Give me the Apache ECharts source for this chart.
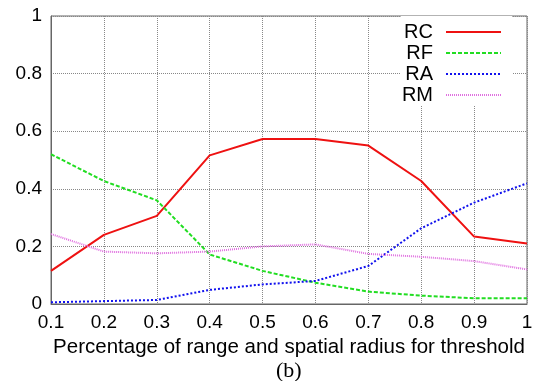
<!DOCTYPE html>
<html>
<head>
    <meta charset="UTF-8">
    <title>chart</title>
    <style>
        html, body {
            margin: 0;
            padding: 0;
            background-color: #FFF;
        }
    </style>
</head>
<body>
<div id="main" style="width:536px;height:381px"></div>

<script src="https://cdn.jsdelivr.net/npm/echarts@6/dist/echarts.min.js"></script>
<script type="text/javascript">
    var xLabels = ['0.1', '0.2', '0.3', '0.4', '0.5', '0.6', '0.7', '0.8', '0.9', '1'];
    var rc = [0.115, 0.240, 0.306, 0.516, 0.573, 0.573, 0.550, 0.427, 0.234, 0.210];
    var rf = [0.520, 0.427, 0.360, 0.172, 0.115, 0.074, 0.043, 0.029, 0.020, 0.020];
    var ra = [0.006, 0.010, 0.014, 0.049, 0.068, 0.080, 0.132, 0.263, 0.352, 0.419];
    var rm = [0.243, 0.182, 0.176, 0.182, 0.200, 0.207, 0.174, 0.164, 0.149, 0.120];
    var names = ['RC', 'RF', 'RA', 'RM'];

    var font = 'Liberation Sans';

    function makeSeries(name, data, color, type) {
        return {
            name: name,
            type: 'line',
            symbol: 'none',
            data: data,
            lineStyle: {color: color, width: 2, type: type},
            itemStyle: {color: color}
        };
    }

    var mCharts = echarts.init(document.getElementById('main'));
    mCharts.setOption({
        animation: false,
        title: {
            text: '(b)',
            left: 276,
            top: 360,
            padding: 0,
            textStyle: {fontFamily: 'Liberation Serif', fontWeight: 'normal', fontSize: 22, color: '#000'}
        },
        legend: {
            data: names,
            orient: 'vertical',
            align: 'right',
            right: 24,
            top: 16,
            padding: [6, 10, 1, 1],
            itemGap: 1,
            itemWidth: 55,
            itemHeight: 14,
            backgroundColor: '#fff',
            selectedMode: false,
            itemStyle: {opacity: 0},
            textStyle: {fontFamily: font, fontSize: 20, color: '#000', lineHeight: 20, padding: [0, 8, 0, 0]}
        },
        grid: {
            left: 51,
            right: 9,
            top: 16,
            bottom: 77,
            show: true,
            borderColor: '#666',
            borderWidth: 1
        },
        xAxis: {
            type: 'category',
            boundaryGap: false,
            data: xLabels,
            name: 'Percentage of range and spatial radius for threshold',
            nameLocation: 'middle',
            nameGap: 30,
            nameTextStyle: {fontFamily: font, fontSize: 20.5, color: '#000'},
            axisLine: {lineStyle: {color: '#666'}},
            axisTick: {show: false},
            axisLabel: {fontFamily: font, fontSize: 19, color: '#000', margin: 9},
            splitLine: {show: true, lineStyle: {color: '#888', type: [1, 1]}}
        },
        yAxis: {
            type: 'value',
            min: 0,
            max: 1,
            interval: 0.2,
            axisLine: {show: true, lineStyle: {color: '#666'}},
            axisTick: {show: false},
            axisLabel: {fontFamily: font, fontSize: 19, color: '#000', margin: 9},
            splitLine: {show: true, lineStyle: {color: '#888', type: [1, 1]}}
        },
        series: [
            makeSeries('RC', rc, '#ee1111', 'solid'),
            makeSeries('RF', rf, '#22dd22', [4, 2]),
            makeSeries('RA', ra, '#1111ee', [2, 2]),
            makeSeries('RM', rm, '#e070e0', [1, 1])
        ]
    });
</script>
</body>
</html>
